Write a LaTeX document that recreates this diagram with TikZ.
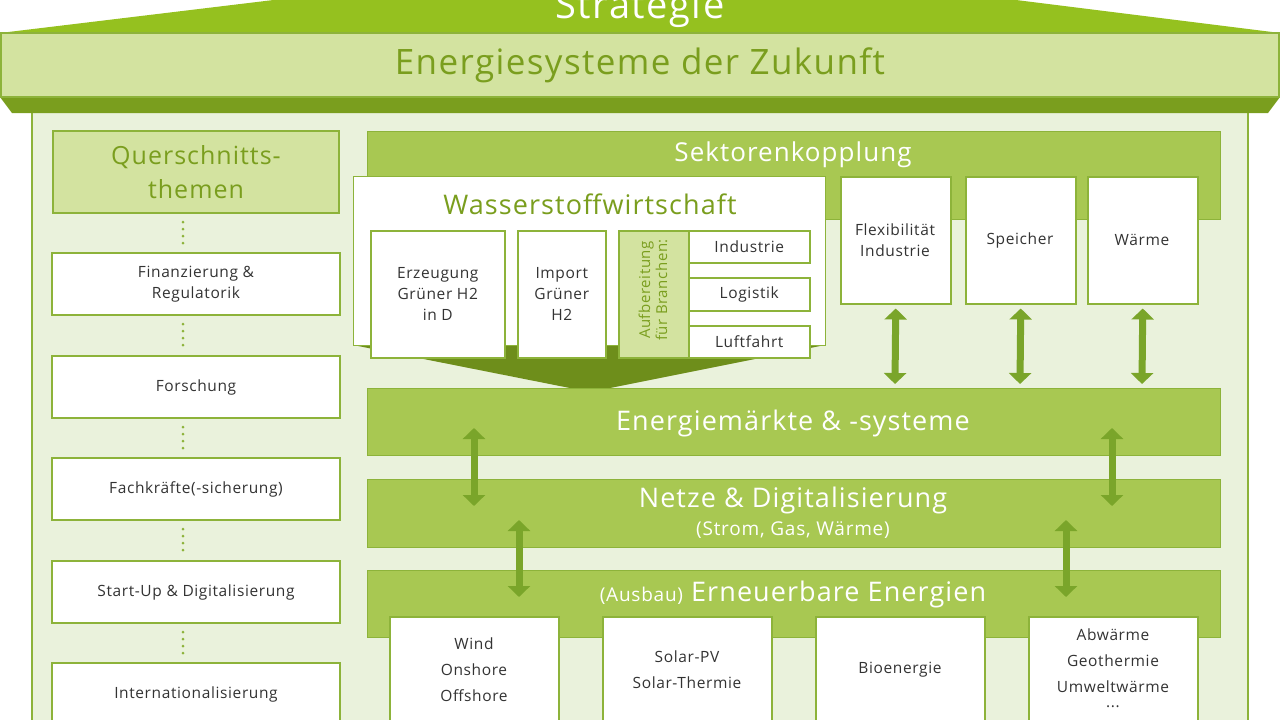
\documentclass[tikz,border=0pt]{standalone}
\usepackage{fontspec}
\setmainfont{Open Sans}[LetterSpace=4]
\usetikzlibrary{arrows.meta}
\definecolor{roof}{HTML}{95C11F}
\definecolor{lband}{HTML}{D3E3A0}
\definecolor{dband}{HTML}{7A9E1E}
\definecolor{bg}{HTML}{EAF2DC}
\definecolor{mid}{HTML}{A8C852}
\definecolor{edge}{HTML}{8DB33A}
\definecolor{arr}{HTML}{7AA52A}
\definecolor{gtext}{HTML}{7A9E1E}
\definecolor{btext}{HTML}{333333}
\begin{document}
\begin{tikzpicture}[x=1pt,y=-1pt,
  bf/.style={font=\fontsize{15.5}{21}\selectfont},
  wbox/.style={draw=edge,line width=1.5pt,fill=white,text=btext,bf,align=center},
  band/.style={draw=edge,line width=1.2pt,fill=mid,text=white,align=center},
  dbl/.style={arr,line width=7pt,{Triangle[width=22pt,length=11pt]}-{Triangle[width=22pt,length=11pt]}},
  dots/.style={edge,line width=3pt,line cap=round,dash pattern=on 0pt off 7pt}]
\useasboundingbox (0,0) rectangle (1280,720);
% body
\fill[bg,draw=edge,line width=1.2pt] (32,110) rectangle (1248,722);
% roof
\fill[roof] (0,33) -- (290,-2) -- (1000,-2) -- (1280,33) -- cycle;
\node[text=white,font=\fontsize{38}{38}\selectfont] (strat) at (640,9) {Strategie};
\fill[dband] (0,97) -- (1280,97) -- (1268,113) -- (12,113) -- cycle;
\node[draw=edge,line width=1.2pt,fill=lband,minimum width=1278pt,minimum height=64pt,text=gtext,font=\fontsize{35}{35}\selectfont] (ezk) at (640,65) {Energiesysteme der Zukunft};
% left column
\node[draw=edge,line width=1.5pt,fill=lband,minimum width=286pt,minimum height=82pt,text=gtext,font=\fontsize{25}{34}\selectfont,align=center] (qt) at (196,172) {Querschnitts-\\themen};
\foreach \n/\y/\t in {fin/284/{Finanzierung \&\\Regulatorik},for/387/Forschung,fach/489/Fachkräfte(-sicherung),start/592/Start-Up \& Digitalisierung,int/694/Internationalisierung}
  \node[wbox,minimum width=288pt,minimum height=62pt] (\n) at (196,\y) {\t};
\draw[dots] (183,222) -- (183,244);
\draw[dots] (183,324) -- (183,346);
\draw[dots] (183,427) -- (183,449);
\draw[dots] (183,529) -- (183,551);
\draw[dots] (183,632) -- (183,654);
% Sektorenkopplung
\node[band,minimum width=853pt,minimum height=88pt,anchor=north west] (sk) at (367,131) {};
\node[text=white,font=\fontsize{26}{26}\selectfont] (skt) at (793,155) {Sektorenkopplung};
% chevron
\fill[dband!90!black] (353,338) -- (825,338) -- (825,345) -- (590,392) -- (353,345) -- cycle;
\node[fill=white,draw=edge,line width=1.2pt,minimum width=472pt,minimum height=169pt,anchor=north west] (ws) at (353,176) {};
\node[text=gtext,font=\fontsize{27}{27}\selectfont] (wst) at (590,204) {Wasserstoffwirtschaft};
\node[wbox,minimum width=134pt,minimum height=127pt,anchor=north west] (erz) at (370,230) {Erzeugung\\Grüner H2\\in D};
\node[wbox,minimum width=88pt,minimum height=127pt,anchor=north west] (imp) at (517,230) {Import\\Grüner\\H2};
\node[draw=edge,line width=1.5pt,fill=lband,minimum width=70pt,minimum height=127pt,anchor=north west] (auf) at (618,230) {};
\node[rotate=90,text=gtext,font=\fontsize{15}{17}\selectfont,align=center] (auft) at (653,290) {Aufbereitung\\für Branchen:};
\node[wbox,minimum width=121pt,minimum height=32pt,anchor=north west] (ind) at (688,230) {Industrie};
\node[wbox,minimum width=121pt,minimum height=33pt,anchor=north west] (log) at (688,277) {Logistik};
\node[wbox,minimum width=121pt,minimum height=32pt,anchor=north west] (luft) at (688,325) {Luftfahrt};
% right boxes
\node[wbox,minimum width=110pt,minimum height=127pt,anchor=north west] (flex) at (840,176) {};
\node[text=btext,bf,align=center] at (895,240) {Flexibilität\\Industrie};
\node[wbox,minimum width=110pt,minimum height=127pt,anchor=north west] (spe) at (965,176) {};
\node[text=btext,bf] at (1020,240) {Speicher};
\node[wbox,minimum width=110pt,minimum height=127pt,anchor=north west] (waer) at (1087,176) {};
\node[text=btext,bf] at (1142,240) {Wärme};
% bands
\node[band,minimum width=853pt,minimum height=67pt,anchor=north west] (em) at (367,388) {};
\node[text=white,font=\fontsize{27}{27}\selectfont] at (793,423) {Energiemärkte \& -systeme};
\node[band,minimum width=853pt,minimum height=68pt,anchor=north west] (nd) at (367,479) {};
\node[text=white,font=\fontsize{27}{27}\selectfont] at (793,500) {Netze \& Digitalisierung};
\node[text=white,font=\fontsize{19}{19}\selectfont] at (793,530) {(Strom, Gas, Wärme)};
\node[band,minimum width=853pt,minimum height=67pt,anchor=north west] (ee) at (367,570) {};
\node[text=white,font=\fontsize{27}{27}\selectfont] at (793,594) {{\fontsize{19}{19}\selectfont (Ausbau)} Erneuerbare Energien};
% bottom boxes
\node[wbox,minimum width=169pt,minimum height=110pt,anchor=north west] (wind) at (389,616) {};
\node[text=btext,bf,align=center] at (474,670) {Wind\\[5pt]Onshore\\[5pt]Offshore};
\node[wbox,minimum width=169pt,minimum height=110pt,anchor=north west] (sol) at (602,616) {};
\node[text=btext,bf,align=center] at (687,670) {Solar-PV\\[5pt]Solar-Thermie};
\node[wbox,minimum width=169pt,minimum height=110pt,anchor=north west] (bio) at (815,616) {};
\node[text=btext,bf] at (900,670) {Bioenergie};
\node[wbox,minimum width=169pt,minimum height=110pt,anchor=north west] (abw) at (1028,616) {};
\node[text=btext,bf,align=center] at (1113,668) {Abwärme\\[5pt]Geothermie\\[5pt]Umweltwärme\\[-6pt]...};
% arrows
\draw[dbl] (flex.south) ++(0,4) -- (895,384);
\draw[dbl] (spe.south) ++(0,4) -- (1020,384);
\draw[dbl] (waer.south) ++(0,4) -- (1142,384);
\draw[dbl] (474,428) -- (474,506);
\draw[dbl] (1112,428) -- (1112,506);
\draw[dbl] (519,520) -- (519,597);
\draw[dbl] (1066,520) -- (1066,597);
\end{tikzpicture}
\end{document}
